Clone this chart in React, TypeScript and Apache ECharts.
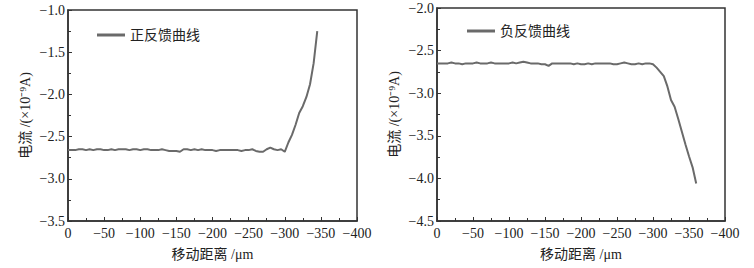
import React, { useEffect, useRef } from "react";
import * as echarts from "echarts";

const posDist = [0,-5,-10,-15,-20,-25,-30,-35,-40,-45,-50,-55,-60,-65,-70,-75,-80,-85,-90,-95,-100,-105,-110,-115,-120,-125,-130,-135,-140,-145,-150,-155,-160,-165,-170,-175,-180,-185,-190,-195,-200,-205,-210,-215,-220,-225,-230,-235,-240,-245,-250,-255,-260,-265,-270,-275,-280,-285,-290,-295,-300,-305,-310,-315,-320,-325,-330,-335,-340,-345];
const posCurrent = [-2.66,-2.66,-2.66,-2.65,-2.65,-2.66,-2.65,-2.66,-2.65,-2.65,-2.66,-2.66,-2.65,-2.66,-2.65,-2.65,-2.65,-2.66,-2.65,-2.65,-2.66,-2.65,-2.65,-2.66,-2.66,-2.66,-2.65,-2.66,-2.67,-2.67,-2.67,-2.68,-2.65,-2.65,-2.66,-2.65,-2.66,-2.65,-2.66,-2.66,-2.66,-2.67,-2.66,-2.66,-2.66,-2.66,-2.66,-2.66,-2.67,-2.66,-2.66,-2.65,-2.67,-2.68,-2.68,-2.65,-2.63,-2.65,-2.66,-2.65,-2.68,-2.57,-2.48,-2.36,-2.22,-2.14,-2.03,-1.88,-1.63,-1.25];

const negDist = [0,-5,-10,-15,-20,-25,-30,-35,-40,-45,-50,-55,-60,-65,-70,-75,-80,-85,-90,-95,-100,-105,-110,-115,-120,-125,-130,-135,-140,-145,-150,-155,-160,-165,-170,-175,-180,-185,-190,-195,-200,-205,-210,-215,-220,-225,-230,-235,-240,-245,-250,-255,-260,-265,-270,-275,-280,-285,-290,-295,-300,-305,-310,-315,-320,-325,-330,-335,-340,-345,-350,-355,-360];
const negCurrent = [-2.65,-2.65,-2.65,-2.65,-2.64,-2.65,-2.65,-2.66,-2.65,-2.65,-2.65,-2.64,-2.65,-2.65,-2.65,-2.64,-2.65,-2.65,-2.65,-2.65,-2.65,-2.64,-2.65,-2.64,-2.63,-2.64,-2.65,-2.65,-2.65,-2.66,-2.66,-2.68,-2.65,-2.65,-2.65,-2.65,-2.65,-2.65,-2.66,-2.65,-2.66,-2.66,-2.65,-2.66,-2.65,-2.65,-2.65,-2.65,-2.65,-2.66,-2.66,-2.65,-2.64,-2.65,-2.66,-2.66,-2.65,-2.66,-2.65,-2.65,-2.66,-2.70,-2.75,-2.80,-2.92,-3.08,-3.16,-3.30,-3.45,-3.60,-3.74,-3.87,-4.06];

const posYTicks = { min: -3.5, max: -1.0, interval: 0.5 };
const negYTicks = { min: -4.5, max: -2.0, interval: 0.5 };
const xTicks = { min: -400, max: 0, interval: 50 };

const seriesNames = ["正反馈曲线", "负反馈曲线"];
const yName = "电流 /(×10⁻⁹A)";
const xName = "移动距离 /μm";

const FONT = '"Liberation Serif", "Noto Sans CJK SC", serif';
const AXIS_COLOR = "#333";
const TEXT_COLOR = "#222";
const LINE_COLOR = "#6a6a6a";

const minus = (s: string) => s.replace("-", "\u2212");

export default function App() {
  const ref = useRef<HTMLDivElement>(null);
  useEffect(() => {
    if (!ref.current) return;
    const chart = echarts.init(ref.current, undefined, { renderer: "svg" });
    const xAxisBase = (gridIndex: number) => ({
      type: "value" as const,
      gridIndex,
      inverse: true,
      min: xTicks.min,
      max: xTicks.max,
      interval: xTicks.interval,
      name: xName,
      nameLocation: "middle" as const,
      nameGap: 26,
      nameTextStyle: { fontFamily: FONT, fontSize: 14, color: TEXT_COLOR },
      axisLine: { show: true, lineStyle: { color: AXIS_COLOR, width: 1.5 } },
      axisTick: { show: true, inside: true, length: 4, lineStyle: { color: AXIS_COLOR } },
      minorTick: { show: true, splitNumber: 2, length: 3, lineStyle: { color: AXIS_COLOR } },
      splitLine: { show: false },
      axisLabel: {
        fontFamily: FONT,
        fontSize: 14,
        color: TEXT_COLOR,
        margin: 5,
        formatter: (v: number) => minus(String(v)),
      },
    });
    const yAxisBase = (gridIndex: number, t: { min: number; max: number; interval: number }) => ({
      type: "value" as const,
      gridIndex,
      min: t.min,
      max: t.max,
      interval: t.interval,
      name: yName,
      nameLocation: "middle" as const,
      nameGap: 36,
      nameTextStyle: { fontFamily: FONT, fontSize: 14, color: TEXT_COLOR },
      axisLine: { show: true, lineStyle: { color: AXIS_COLOR, width: 1.5 } },
      axisTick: { show: true, inside: true, length: 4, lineStyle: { color: AXIS_COLOR } },
      minorTick: { show: true, splitNumber: 2, length: 3, lineStyle: { color: AXIS_COLOR } },
      splitLine: { show: false },
      axisLabel: {
        fontFamily: FONT,
        fontSize: 14,
        color: TEXT_COLOR,
        margin: 3,
        formatter: (v: number) => minus(v.toFixed(1)),
      },
    });
    const legendBase = {
      icon: "rect",
      itemWidth: 28,
      itemHeight: 3,
      itemGap: 5,
      textStyle: { fontFamily: FONT, fontSize: 14, color: TEXT_COLOR },
    };
    chart.setOption({
      animation: false,
      backgroundColor: "#fff",
      grid: [
        { left: 68, top: 10, width: 289, height: 211, show: true, borderColor: AXIS_COLOR, borderWidth: 1.5, backgroundColor: "transparent" },
        { left: 437, top: 8, width: 288, height: 213, show: true, borderColor: AXIS_COLOR, borderWidth: 1.5, backgroundColor: "transparent" },
      ],
      legend: [
        { ...legendBase, data: [seriesNames[0]], left: 92, top: 23 },
        { ...legendBase, data: [seriesNames[1]], left: 462, top: 19 },
      ],
      xAxis: [xAxisBase(0), xAxisBase(1)],
      yAxis: [yAxisBase(0, posYTicks), yAxisBase(1, negYTicks)],
      series: [
        {
          name: seriesNames[0],
          type: "line",
          xAxisIndex: 0,
          yAxisIndex: 0,
          symbol: "none",
          data: posDist.map((d, i) => [d, posCurrent[i]]),
          lineStyle: { color: LINE_COLOR, width: 2 },
          itemStyle: { color: LINE_COLOR },
        },
        {
          name: seriesNames[1],
          type: "line",
          xAxisIndex: 1,
          yAxisIndex: 1,
          symbol: "none",
          data: negDist.map((d, i) => [d, negCurrent[i]]),
          lineStyle: { color: LINE_COLOR, width: 2 },
          itemStyle: { color: LINE_COLOR },
        },
      ],
    });
    return () => chart.dispose();
  }, []);
  return <div ref={ref} style={{ width: 754, height: 268, position: "absolute", left: 0, top: 0 }} />;
}
